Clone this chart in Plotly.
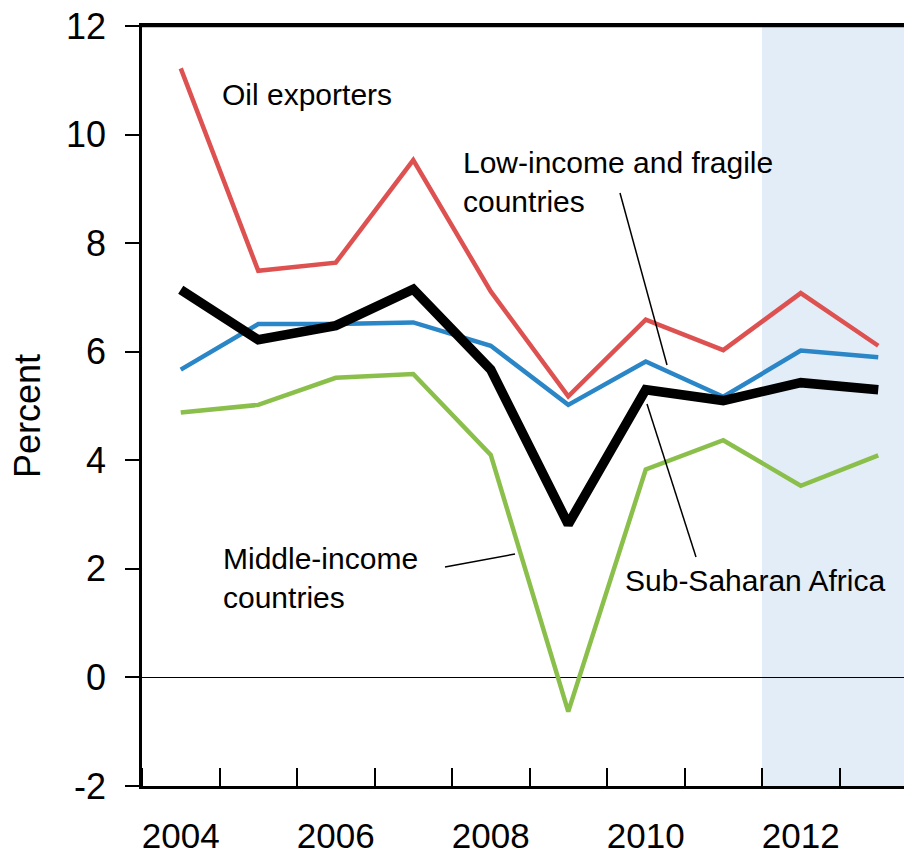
import plotly.graph_objects as go

years = [2004, 2005, 2006, 2007, 2008, 2009, 2010, 2011, 2012, 2013]
oil_exporters = [11.22, 7.49, 7.64, 9.53, 7.11, 5.18, 6.59, 6.03, 7.08, 6.11]
low_income_fragile = [5.67, 6.51, 6.51, 6.54, 6.11, 5.02, 5.82, 5.17, 6.02, 5.90]
middle_income = [4.88, 5.02, 5.52, 5.59, 4.10, -0.63, 3.83, 4.37, 3.53, 4.09]
sub_saharan_africa = [7.14, 6.22, 6.48, 7.15, 5.67, 2.82, 5.30, 5.10, 5.43, 5.30]

y_tickvals = [-2, 0, 2, 4, 6, 8, 10, 12]
y_ticktext = ["-2", "0", "2", "4", "6", "8", "10", "12"]
x_tickvals = [2004, 2006, 2008, 2010, 2012]
x_ticktext = ["2004", "2006", "2008", "2010", "2012"]

FONT = "Liberation Sans Narrow, Arial Narrow, Liberation Sans, Arial, sans-serif"

# page body has an 8px default margin
OFF = 8
W, H = 912, 857 - OFF
REF_L, REF_T, REF_B, REF_R = 142, 26, 786, 912   # plot box in window pixels
ML, MT, MB = REF_L - OFF, REF_T - OFF, (857 - REF_B)
MR = W - (REF_R - OFF)
XMIN = 2003.5
PX_PER_YEAR = 77.5
XMAX = XMIN + (REF_R - REF_L) / PX_PER_YEAR
YMIN, YMAX = -2, 12
PLOT_H = REF_B - REF_T


def dx(px):
    return XMIN + (px - REF_L) / PX_PER_YEAR


def dy(py):
    return YMAX - (py - REF_T) / PLOT_H * (YMAX - YMIN)


fig = go.Figure()

fig.add_trace(go.Scatter(x=years, y=oil_exporters, mode="lines",
                         line=dict(color="#DE5151", width=4.5), name="Oil exporters"))
fig.add_trace(go.Scatter(x=years, y=low_income_fragile, mode="lines",
                         line=dict(color="#2A86C6", width=4.5), name="Low-income and fragile countries"))
fig.add_trace(go.Scatter(x=years, y=middle_income, mode="lines",
                         line=dict(color="#8BBF4B", width=4.5), name="Middle-income countries"))
fig.add_trace(go.Scatter(x=years, y=sub_saharan_africa, mode="lines",
                         line=dict(color="#000000", width=9.5), name="Sub-Saharan Africa"))

# projection shading
fig.add_shape(type="rect", xref="x", yref="paper", x0=2011.5, x1=XMAX, y0=0, y1=1,
              fillcolor="#E3EDF8", line=dict(width=0), layer="below")
# top border
fig.add_shape(type="line", xref="paper", yref="paper", x0=0, x1=1, y0=1, y1=1,
              line=dict(color="black", width=2.5), layer="above")

# leader lines
fig.add_shape(type="line", xref="x", yref="y", x0=dx(620), y0=dy(193), x1=dx(667), y1=dy(365),
              line=dict(color="black", width=1.5))
fig.add_shape(type="line", xref="x", yref="y", x0=dx(647), y0=dy(404), x1=dx(696), y1=dy(557),
              line=dict(color="black", width=1.5))
fig.add_shape(type="line", xref="x", yref="y", x0=dx(445), y0=dy(567), x1=dx(515), y1=dy(554),
              line=dict(color="black", width=1.5))

ann_font = dict(family=FONT, size=30, color="black")
fig.add_annotation(x=dx(220), y=dy(94), xref="x", yref="y", text="Oil exporters",
                   showarrow=False, xanchor="left", yanchor="middle", align="left", font=ann_font)
fig.add_annotation(x=dx(461), y=dy(182), xref="x", yref="y",
                   text="Low-income and fragile<br>countries",
                   showarrow=False, xanchor="left", yanchor="middle", align="left", font=ann_font)
fig.add_annotation(x=dx(221), y=dy(578), xref="x", yref="y",
                   text="Middle-income<br>countries",
                   showarrow=False, xanchor="left", yanchor="middle", align="left", font=ann_font)
fig.add_annotation(x=dx(623), y=dy(580), xref="x", yref="y", text="Sub-Saharan Africa",
                   showarrow=False, xanchor="left", yanchor="middle", align="left", font=ann_font)

# y title
fig.add_annotation(x=(28 - REF_L) / (REF_R - REF_L), y=(REF_B - 416) / PLOT_H, xref="paper", yref="paper",
                   text="Percent", textangle=-90, showarrow=False, xanchor="center", yanchor="middle",
                   font=dict(family=FONT, size=36, color="black"))

fig.update_layout(
    width=W, height=H,
    margin=dict(l=ML, r=MR, t=MT, b=MB, pad=0, autoexpand=False),
    paper_bgcolor="white", plot_bgcolor="white",
    showlegend=False,
    font=dict(family=FONT, color="black"),
)

fig.update_xaxes(
    range=[XMIN, XMAX], automargin=False,
    tickmode="array", tickvals=x_tickvals, ticktext=x_ticktext,
    ticks="", showgrid=False, zeroline=False,
    showline=True, linecolor="black", linewidth=2.5, mirror=True,
    tickfont=dict(family=FONT, size=35, color="black"),
    ticklabelstandoff=17, ticklabeloverflow="allow",
    minor=dict(tickmode="linear", tick0=2004.5, dtick=1, ticks="inside", ticklen=18,
               tickwidth=1.5, tickcolor="black", showgrid=False),
)

fig.update_yaxes(
    range=[YMIN, YMAX], automargin=False,
    tickmode="array", tickvals=y_tickvals, ticktext=y_ticktext,
    ticks="outside", ticklen=14, tickwidth=1.5, tickcolor="black",
    showgrid=False,
    zeroline=True, zerolinecolor="black", zerolinewidth=1.2,
    showline=True, linecolor="black", linewidth=2.5,
    tickfont=dict(family=FONT, size=36, color="black"),
    ticklabelstandoff=12, ticklabeloverflow="allow",
)

fig.write_html("out.html")
